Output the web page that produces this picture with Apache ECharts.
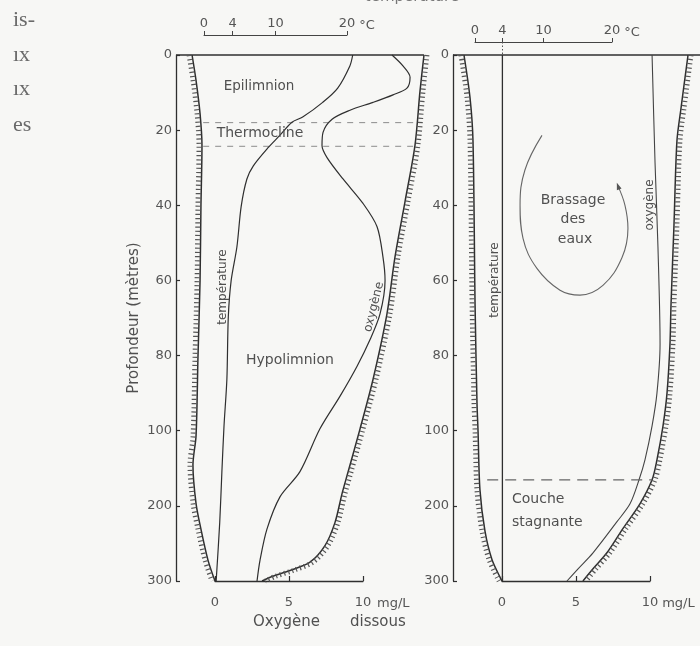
<!DOCTYPE html>
<html><head><meta charset="utf-8">
<script src="https://cdn.jsdelivr.net/npm/echarts@6/dist/echarts.min.js"></script>
<style>html,body{margin:0;padding:0;background:#f7f7f5}#c{width:700px;height:646px}</style>
</head><body><div id="c"></div>
<script>
// ================= DATA =================
// depth tick labels (metres); axis is linear 0-100 m then compressed 100-300 m
const depthTicks = [0, 20, 40, 60, 80, 100, 200, 300];
const tempTicks = [0, 4, 10, 20];
const oxyTicks = [0, 5, 10];

// ---- Left panel: summer stratification ----
const leftTempDepth = [0, 2.9, 8.8, 12.6, 16.5, 17.9, 21.4, 24.6, 29.5, 33, 40.3, 51.1, 60, 69.7, 86.3, 98.7, 155, 222, 300];
const leftTempValue = [20.8, 20.4, 18.7, 16.6, 13.8, 12.3, 10.6, 9.0, 6.9, 6.0, 5.2, 4.6, 3.8, 3.4, 3.2, 2.8, 2.5, 2.2, 1.7];

const leftOxyDepth = [0, 2.9, 5.9, 8.8, 10.6, 12.6, 14.7, 17.1, 20.6, 24.1, 27.3, 33, 39.5, 45.7, 53.8, 60, 68.9, 75.8, 82.9, 90.8, 99.5, 154.5, 188, 231, 272.5, 300];
const leftOxyValue = [11.96, 12.7, 13.18, 12.97, 12.03, 10.68, 9.12, 7.91, 7.3, 7.23, 7.57, 8.65, 10.0, 10.95, 11.35, 11.49, 11.15, 10.47, 9.59, 8.45, 7.09, 5.74, 4.39, 3.51, 3.04, 2.84];

const leftBankLDepth = [0, 6.8, 15.6, 24.1, 40.3, 60, 80.3, 106.5, 145.5, 197, 231, 272.5, 300];
const leftBankLValue = [-1.55, -1.28, -1.01, -0.88, -0.95, -1.01, -1.15, -1.28, -1.49, -1.28, -0.95, -0.47, 0];
const leftBankRDepth = [0, 9.7, 24.1, 39, 53.8, 68.9, 86.3, 99.5, 155, 184, 222, 253, 275, 286, 294, 300];
const leftBankRValue = [14.12, 13.85, 13.51, 12.84, 12.16, 11.62, 10.68, 9.8, 8.99, 8.58, 8.11, 7.43, 6.42, 5.07, 3.85, 3.18];

const leftSurface = [-2.6, 14.12];          // oxygen-scale extent of water surface line
const thermoclineDepths = [18, 24.3];
const thermoclineExtent = [-0.8, 13.8];

// ---- Right panel: overturn ----
const rightTempDepth = [0, 300];
const rightTempValue = [4, 4];

const rightOxyDepth = [0, 28.6, 51.4, 76.9, 90, 98.7, 138.7, 165.3, 197.3, 221, 262.5, 283.75, 300];
const rightOxyValue = [10.14, 10.34, 10.54, 10.68, 10.47, 10.14, 9.66, 9.26, 8.65, 7.77, 6.15, 5.14, 4.39];

const rightBankLDepth = [0, 11.4, 22.9, 66.5, 92.6, 100, 178.7, 233.75, 271.25, 300];
const rightBankLValue = [-2.57, -2.16, -1.96, -1.82, -1.69, -1.62, -1.49, -1.15, -0.68, 0];
const rightBankRDepth = [0, 14.3, 22.9, 45.3, 66.5, 76.9, 90, 98.7, 138.7, 165.3, 197.3, 230, 262.5, 283.75, 300];
const rightBankRValue = [12.57, 12.09, 11.82, 11.62, 11.42, 11.35, 11.15, 10.88, 10.47, 10.14, 9.32, 8.18, 7.09, 6.15, 5.47];

const rightSurface = [-3.3, 13.4];
const stagnantDepth = 165.3;
const stagnantExtent = [-1.0, 10.14];

const loopValue = [2.70, 1.55, 1.22, 1.42, 2.36, 3.92, 5.27, 6.82, 8.11, 8.51, 8.31, 7.84];
const loopDepth = [21.4, 30.6, 40, 48.8, 56.8, 62.6, 63.9, 61.3, 53.9, 46.1, 40, 34.9];

// ================= LAYOUT =================
const FONT = '"DejaVu Sans", "Noto Sans", sans-serif';
const C_LINE = '#2f2f2f';
const C_TEXT = '#505050';
const GT = 55, GBOT = 581, H = 646;
const PANELS = [
  { axisX: 176, right: 430, t0: 204, t20: 347, o0: 215, o10: 363, topY: 35, nameGapT: 7, nameGapO: 14 },
  { axisX: 453, right: 700, t0: 475, t20: 612, o0: 502, o10: 650, topY: 42, nameGapT: 9, nameGapO: 12 }
];

function depthToU(d) { return d <= 100 ? d : 100 + (d - 100) / 5; }
function pts(xs, ds, off) { off = off || 0; return xs.map((x, i) => [x + off, depthToU(ds[i])]); }

const grids = [], xAxes = [], yAxes = [];
function addGrid(g) { g.outerBoundsMode = 'none'; grids.push(g); return grids.length - 1; }
function hiddenY(gi) { yAxes.push({ type: 'value', gridIndex: gi, show: false, min: 0, max: 1 }); return yAxes.length - 1; }

const axisText = { color: '#555', fontSize: 13, fontFamily: FONT };
const idx = [];
PANELS.forEach((p, k) => {
  // decorative temperature scale (top)
  const gT = addGrid({ left: p.t0, width: p.t20 - p.t0, top: p.topY, height: 1 });
  hiddenY(gT);
  xAxes.push({
    type: 'value', gridIndex: gT, position: 'top', min: 0, max: 20,
    axisLine: { show: true, onZero: false, lineStyle: { color: '#444', width: 1 } },
    axisTick: { show: true, customValues: tempTicks, length: 4, lineStyle: { color: '#444' } },
    axisLabel: Object.assign({ show: true, customValues: tempTicks, margin: 5 }, axisText),
    splitLine: { show: false },
    name: '°C', nameLocation: 'end', nameGap: p.nameGapT,
    nameTextStyle: Object.assign({ verticalAlign: 'bottom', padding: [0, 0, 3, 0] }, axisText)
  });
  if (k === 1) { // dotted guide from the 4 °C tick down to the water surface
    xAxes.push({
      type: 'value', gridIndex: gT, position: 'top', min: 0, max: 20,
      axisLine: { show: false, onZero: false },
      axisTick: { show: true, inside: true, customValues: [4], length: GT - p.topY,
        lineStyle: { color: '#555', type: [1.5, 2], width: 1 } },
      axisLabel: { show: false }, splitLine: { show: false }
    });
  }
  // decorative oxygen scale (bottom)
  const gO = addGrid({ left: p.o0, width: p.o10 - p.o0, top: GBOT - 1, height: 1 });
  hiddenY(gO);
  xAxes.push({
    type: 'value', gridIndex: gO, position: 'bottom', min: 0, max: 10, interval: 5,
    axisLine: { show: true, onZero: false, lineStyle: { color: C_LINE, width: 1.3 } },
    axisTick: { show: true, inside: true, length: 5, lineStyle: { color: C_LINE, width: 1.2 } },
    axisLabel: Object.assign({ show: true, margin: 15 }, axisText),
    splitLine: { show: false },
    name: 'mg/L', nameLocation: 'end', nameGap: p.nameGapO,
    nameTextStyle: Object.assign({ verticalAlign: 'top', padding: [16, 0, 0, 0] }, axisText)
  });
  // data grid: wide, with hidden x scales matching the decorative scales
  const gD = addGrid({ left: p.axisX, width: p.right - p.axisX, top: GT, bottom: H - GBOT });
  const pxT = (p.t20 - p.t0) / 20, pxO = (p.o10 - p.o0) / 10;
  xAxes.push({ type: 'value', gridIndex: gD, show: false, min: (p.axisX - p.t0) / pxT, max: (p.right - p.t0) / pxT });
  const xiT = xAxes.length - 1;
  xAxes.push({ type: 'value', gridIndex: gD, show: false, min: (p.axisX - p.o0) / pxO, max: (p.right - p.o0) / pxO });
  const xiO = xAxes.length - 1;
  yAxes.push({
    type: 'value', gridIndex: gD, inverse: true, min: 0, max: 140, interval: 20, position: 'left',
    axisLine: { show: true, onZero: false, lineStyle: { color: C_LINE, width: 1.3 } },
    axisTick: { show: true, inside: true, length: 4, lineStyle: { color: C_LINE, width: 1.2 } },
    axisLabel: Object.assign({ show: true, margin: 4, formatter: v => String(depthTicks[Math.round(v / 20)]) }, axisText),
    splitLine: { show: false }
  });
  const yi = yAxes.length - 1;
  idx.push({ xiT, xiO, yi });
});
yAxes[idx[0].yi].name = 'Profondeur (mètres)';
yAxes[idx[0].yi].nameLocation = 'middle';
yAxes[idx[0].yi].nameRotate = 90;
yAxes[idx[0].yi].nameGap = 34;
yAxes[idx[0].yi].nameTextStyle = { color: C_TEXT, fontSize: 15, fontFamily: FONT };

function line(xi, yi, data, style, extra) {
  return Object.assign({
    type: 'line', xAxisIndex: xi, yAxisIndex: yi, data: data, showSymbol: false, symbol: 'none',
    clip: false, silent: true, animation: false, smooth: 0.3,
    lineStyle: Object.assign({ color: C_LINE, width: 1.3 }, style)
  }, extra || {});
}
function hatch(xi, yi, xs, ds, off) {
  return line(xi, yi, pts(xs, ds, off), { width: 5, type: [1.2, 3], color: '#555' });
}

const series = [];
const A = idx[0], B = idx[1];
// ---- left panel ----
series.push(line(A.xiO, A.yi, [[leftSurface[0], 0], [leftSurface[1], 0]], {}, { smooth: false }));
series.push(line(A.xiO, A.yi, pts(leftBankLValue, leftBankLDepth), { width: 1.5 }));
series.push(hatch(A.xiO, A.yi, leftBankLValue, leftBankLDepth, -0.2));
series.push(line(A.xiO, A.yi, pts(leftBankRValue, leftBankRDepth), { width: 1.5 }));
series.push(hatch(A.xiO, A.yi, leftBankRValue, leftBankRDepth, 0.2));
thermoclineDepths.forEach(d => {
  series.push(line(A.xiO, A.yi, [[thermoclineExtent[0], depthToU(d)], [thermoclineExtent[1], depthToU(d)]],
    { width: 1, color: '#8c8c8c', type: [6, 6] }, { smooth: false }));
});
series.push(line(A.xiO, A.yi, pts(leftOxyValue, leftOxyDepth), { width: 1.2 }));
series.push(line(A.xiT, A.yi, pts(leftTempValue, leftTempDepth), { width: 1.2 }));
// ---- right panel ----
series.push(line(B.xiO, B.yi, [[rightSurface[0], 0], [rightSurface[1], 0]], {}, { smooth: false }));
series.push(line(B.xiO, B.yi, pts(rightBankLValue, rightBankLDepth), { width: 1.5 }));
series.push(hatch(B.xiO, B.yi, rightBankLValue, rightBankLDepth, -0.2));
series.push(line(B.xiO, B.yi, pts(rightBankRValue, rightBankRDepth), { width: 1.5 }));
series.push(hatch(B.xiO, B.yi, rightBankRValue, rightBankRDepth, 0.2));
series.push(line(B.xiO, B.yi, pts(rightOxyValue, rightOxyDepth), { width: 1.1, color: '#444' }));
series.push(line(B.xiO, B.yi, [[stagnantExtent[0], depthToU(stagnantDepth)], [stagnantExtent[1], depthToU(stagnantDepth)]],
  { width: 1.2, color: '#666', type: [11, 7] }, { smooth: false }));
series.push(line(B.xiT, B.yi, pts(rightTempValue, rightTempDepth), {}, { smooth: false }));
const loopPts = pts(loopValue, loopDepth);
series.push(line(B.xiO, B.yi, loopPts.map((p, i) => i === loopPts.length - 1
    ? { value: p, symbol: 'triangle', symbolSize: [5, 7], symbolRotate: 20, itemStyle: { color: '#555' } }
    : { value: p, symbol: 'none' }),
  { width: 1.1, color: '#666' }, { showSymbol: true, smooth: 0.4 }));

function txt(text, x, y, size, opt) {
  opt = opt || {};
  return { type: 'text', x: x, y: y, rotation: opt.rot || 0, silent: true, z: 10,
    style: { text: text, fill: opt.color || C_TEXT, fontSize: size, fontFamily: opt.family || FONT,
      align: opt.align || 'center', verticalAlign: 'middle' } };
}
const R90 = Math.PI / 2;
const SERIF = '"Liberation Serif", serif';
const graphics = [
  // fragments of the book page text at the left margin
  txt('is-', 13, 20, 22, { align: 'left', family: SERIF, color: '#6a6a6a' }),
  txt('ıx', 13, 55, 22, { align: 'left', family: SERIF, color: '#6a6a6a' }),
  txt('ıx', 13, 89, 22, { align: 'left', family: SERIF, color: '#6a6a6a' }),
  txt('es', 13, 125, 22, { align: 'left', family: SERIF, color: '#6a6a6a' }),
  txt('température', 412, -3, 15, { color: '#777' }),
  // left panel
  txt('Epilimnion', 259, 86, 13.5),
  txt('Thermocline', 260, 133, 14),
  txt('Hypolimnion', 290, 360, 14),
  txt('température', 223, 287, 12, { rot: R90 }),
  txt('oxygène', 374, 307, 12, { rot: 76 * Math.PI / 180 }),
  txt('Oxygène', 253, 622, 15, { align: 'left' }),
  txt('dissous', 350, 622, 15, { align: 'left' }),
  // right panel
  txt('Brassage', 573, 200, 14),
  txt('des', 573, 219, 14),
  txt('eaux', 575, 239, 14),
  txt('température', 495, 280, 12, { rot: R90 }),
  txt('oxygène', 650, 205, 12, { rot: R90 }),
  txt('Couche', 512, 499, 14, { align: 'left' }),
  txt('stagnante', 512, 522, 14, { align: 'left' })
];

const chart = echarts.init(document.getElementById('c'), null, { renderer: 'canvas' });
chart.setOption({
  backgroundColor: '#f7f7f5',
  animation: false,
  textStyle: { fontFamily: FONT },
  grid: grids,
  xAxis: xAxes,
  yAxis: yAxes,
  series: series,
  graphic: graphics
});
</script>
</body></html>
